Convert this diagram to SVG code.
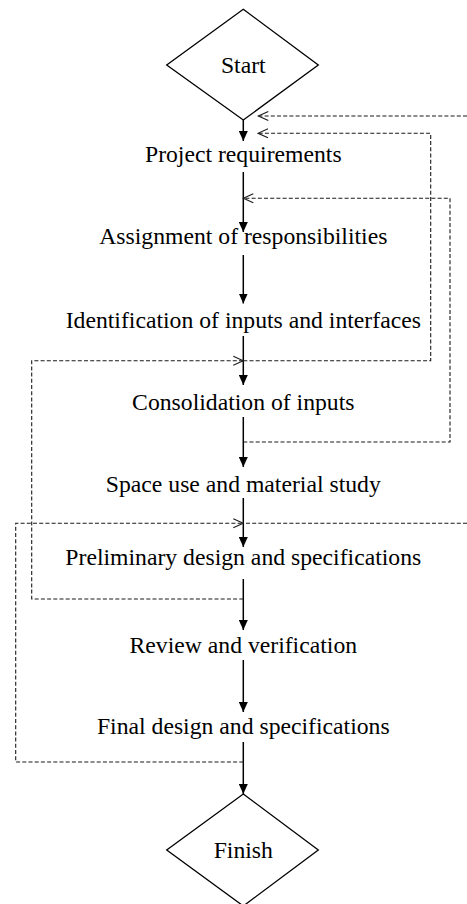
<svg xmlns="http://www.w3.org/2000/svg" width="467" height="904" viewBox="0 0 467 904">
  <style>
    .shape { fill: none; stroke: #000; stroke-width: 1.3; }
    .flow { fill: none; stroke: #000; stroke-width: 1.5; }
    .loop { fill: none; stroke: #1a1a1a; stroke-width: 1.1; stroke-dasharray: 4 2.2; }
    .label { font-family: "Liberation Serif", "Times New Roman", serif; font-size: 23.7px; fill: #000; text-anchor: middle; }
  </style>
  <defs>
    <marker id="solid" viewBox="0 0 10 9" refX="10" refY="4.5" markerUnits="userSpaceOnUse" markerWidth="10" markerHeight="9" orient="auto">
      <path d="M0,0 L10,4.5 L0,9 Z" fill="#000" stroke="none"/>
    </marker>
    <marker id="open" viewBox="-1 -1 12 11" refX="10" refY="4.5" markerUnits="userSpaceOnUse" markerWidth="12" markerHeight="11" orient="auto">
      <path d="M0,0 L10,4.5 L0,9" fill="none" stroke="#1a1a1a" stroke-width="1.1" stroke-dasharray="none"/>
    </marker>
  </defs>

  <rect width="467" height="904" fill="#fff"/>

  <!-- main flow and feedback loops -->
  <g id="connectors">
    <line class="flow" x1="243.3" y1="120" x2="243.3" y2="141" marker-end="url(#solid)"/>
    <line class="flow" x1="243.3" y1="172" x2="243.3" y2="232" marker-end="url(#solid)"/>
    <line class="flow" x1="243.3" y1="255" x2="243.3" y2="303.5" marker-end="url(#solid)"/>
    <line class="flow" x1="243.3" y1="336" x2="243.3" y2="385" marker-end="url(#solid)"/>
    <line class="flow" x1="243.3" y1="417" x2="243.3" y2="467" marker-end="url(#solid)"/>
    <line class="flow" x1="243.3" y1="498" x2="243.3" y2="547" marker-end="url(#solid)"/>
    <line class="flow" x1="243.3" y1="579" x2="243.3" y2="630" marker-end="url(#solid)"/>
    <line class="flow" x1="243.3" y1="660" x2="243.3" y2="712" marker-end="url(#solid)"/>
    <line class="flow" x1="243.3" y1="742" x2="243.3" y2="794" marker-end="url(#solid)"/>

    <!-- return paths -->
    <path class="loop" d="M467,116 H258.3" marker-end="url(#open)"/>
    <path class="loop" d="M243.3,360.7 H430.7 V133.3 H258" marker-end="url(#open)"/>
    <path class="loop" d="M243.3,442 H450 V198.3 H243.3" marker-end="url(#open)"/>
    <path class="loop" d="M243.3,599 H31.7 V360.7 H243.3" marker-end="url(#open)"/>
    <path class="loop" d="M243.3,762 H15.7 V523.3 H243.3" marker-end="url(#open)"/>
    <path class="loop" d="M467,523.3 H243.3"/>
  </g>

  <g id="start">
    <polygon class="shape" points="243.3,9.3 318.3,65 243.3,120 166.7,65"/>
    <text class="label" x="243.3" y="72.5">Start</text>
  </g>
  <g id="project-requirements">
    <text class="label" x="243.3" y="162">Project requirements</text>
  </g>
  <g id="assignment">
    <text class="label" x="243.3" y="243.5">Assignment of responsibilities</text>
  </g>
  <g id="identification">
    <text class="label" x="243.3" y="328.3">Identification of inputs and interfaces</text>
  </g>
  <g id="consolidation">
    <text class="label" x="243.3" y="410">Consolidation of inputs</text>
  </g>
  <g id="space-use">
    <text class="label" x="243.3" y="491.7">Space use and material study</text>
  </g>
  <g id="preliminary-design">
    <text class="label" x="243.3" y="564.5">Preliminary design and specifications</text>
  </g>
  <g id="review">
    <text class="label" x="243.3" y="652.5">Review and verification</text>
  </g>
  <g id="final-design">
    <text class="label" x="243.3" y="734">Final design and specifications</text>
  </g>
  <g id="finish">
    <polygon class="shape" points="243.3,794 318.3,850 243.3,906 166.7,850"/>
    <text class="label" x="243.3" y="857.5">Finish</text>
  </g>
</svg>
